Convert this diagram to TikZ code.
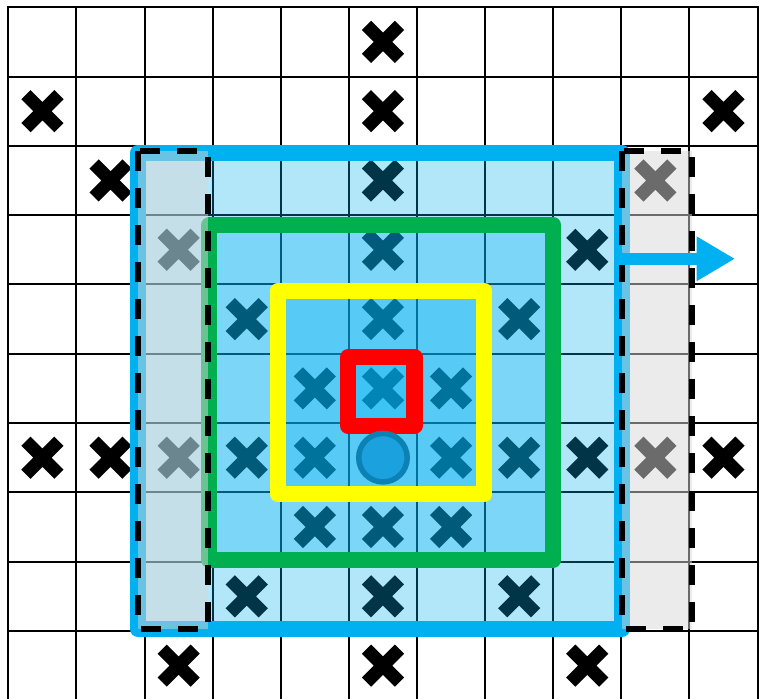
\documentclass[tikz,border=0pt]{standalone}
\usepackage{xcolor}
\usepackage{tikz}
\usetikzlibrary{
  arrows.meta
}

\definecolor{zoneblue}{RGB}{0,176,240}
\definecolor{zonegreen}{RGB}{0,176,80}
\definecolor{zoneyellow}{RGB}{255,255,0}
\definecolor{zonered}{RGB}{255,0,0}
\definecolor{bandgray}{RGB}{215,215,215}
\definecolor{piecefill}{RGB}{27,161,222}
\definecolor{pieceedge}{RGB}{12,130,180}

\begin{document}
\begin{tikzpicture}[
  x=1.362cm, y=-1.386cm,
  gridline/.style={
    draw=black, line width=0.04cm, line cap=rect
  },
  zone/.style={
    line width=0.32cm, line join=round,
    fill=zoneblue, fill opacity=0.3
  },
  greyband/.style={
    fill=bandgray, fill opacity=0.5,
    draw=black, line width=0.12cm, line join=round,
    dash pattern=on 0.40cm off 0.34cm
  },
  cross/.pic={
    \draw[line width=0.26cm] (-0.33cm,-0.33cm) -- (0.33cm,0.33cm)
      (-0.33cm,0.33cm) -- (0.33cm,-0.33cm);
  },
  piece/.style={
    circle, draw=pieceedge, fill=piecefill, line width=0.11cm,
    minimum size=0.97cm, inner sep=0pt
  }
]
  \useasboundingbox (-0.123,-0.104) rectangle (11.051,9.968);

  \foreach \c in {0,...,11}
    \draw[gridline] (\c,0) -- (\c,10);
  \foreach \r in {0,...,10}
    \draw[gridline] (0,\r) -- (11,\r);

  \foreach \c/\r in {5/0, 0/1, 5/1, 10/1, 1/2, 5/2, 9/2, 2/3, 5/3, 8/3,
                     3/4, 5/4, 7/4, 4/5, 5/5, 6/5,
                     0/6, 1/6, 2/6, 3/6, 4/6, 6/6, 7/6, 8/6, 9/6, 10/6,
                     4/7, 5/7, 6/7, 3/8, 5/8, 7/8, 2/9, 5/9, 8/9}
    \pic at (\c+0.5,\r+0.5) {cross};

  \draw[zone, draw=zoneblue]   (1.90,2.10) rectangle (9.01,8.97);
  \draw[zone, draw=zonegreen]  (2.95,3.14) rectangle (8.00,7.98);
  \draw[zone, draw=zoneyellow] (3.96,4.09) rectangle (6.99,7.03);
  \draw[zone, draw=zonered, line width=0.33cm] (4.99,5.05) rectangle (5.96,6.04);

  \draw[greyband] (1.90,2.08) rectangle (2.93,8.97);
  \draw[greyband] (9.01,2.08) rectangle (10.04,8.97);

  \node[piece] (pawn) at (5.5,6.5) {};

  \coordinate (shift) at (8.91,3.63);
  \coordinate (shifttip) at (10.67,3.63);
  \draw[zoneblue, line width=0.24cm, -{Triangle[length=0.77cm,width=0.84cm]}]
    (shift) -- (shifttip);
\end{tikzpicture}
\end{document}
